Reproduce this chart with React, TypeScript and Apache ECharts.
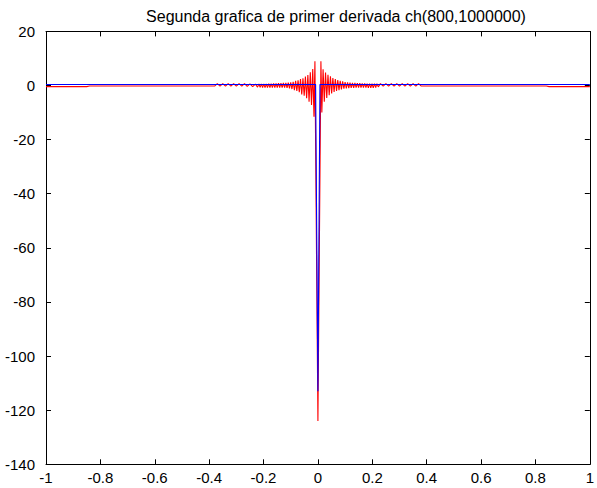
import React, { useEffect, useRef } from "react";
import * as echarts from "echarts";

// Axis ranges and tick spacing
const xMin = -1;
const xMax = 1;
const xStep = 0.2;
const yMin = -140;
const yMax = 20;
const yStep = 20;

const titleText = "Segunda grafica de primer derivada ch(800,1000000)";

// Blue trace: flat near zero with a sharp dip at the origin
const blueX = [-1, -0.5, -0.2, -0.0085, 0, 0.0075, 0.2, 0.5, 1];
const blueY = [0.4, 0.4, 0.4, 0.4, -113, 0.4, 0.4, 0.4, 0.4];

// Red trace, outer left part
const redOuterLeftX = [-1, -0.85, -0.84, -0.6, -0.38];
const redOuterLeftY = [-0.4, -0.4, -0.2, -0.2, -0.2];

// Red trace, small ripple band on the left
const redBandLeftX = [-0.37, -0.36, -0.35, -0.34, -0.33, -0.32, -0.31, -0.3, -0.29, -0.28, -0.27, -0.26, -0.25, -0.24, -0.23, -0.222];
const redBandLeftY = [0.7, -0.2, 0.7, -0.2, 0.7, -0.2, 0.7, -0.2, 0.7, -0.2, 0.7, -0.3, 0.6, -0.4, 0.5, -0.6];

// Red trace, growing oscillation approaching the origin from the left
const redBurstLeftX = [
  -0.217, -0.2125, -0.208, -0.2035, -0.199, -0.1945, -0.19, -0.1855, -0.181, -0.1765,
  -0.172, -0.1675, -0.163, -0.1585, -0.154, -0.1495, -0.145, -0.1405, -0.136, -0.1315,
  -0.127, -0.1225, -0.118, -0.1135, -0.109, -0.1045, -0.1, -0.0955, -0.091, -0.0865,
  -0.082, -0.0775, -0.073, -0.0685, -0.064, -0.0595, -0.055, -0.0505, -0.046, -0.0415,
  -0.037, -0.0325, -0.028, -0.0235, -0.019, -0.0145, -0.011,
];
const redBurstLeftY = [
  0.6, -0.7, 0.6, -0.8, 0.6, -0.8, 0.6, -0.8, 0.7, -0.8,
  0.7, -0.8, 0.8, -0.8, 0.8, -0.8, 0.9, -0.8, 0.9, -0.8,
  1.0, -0.8, 1.0, -0.9, 1.1, -1.1, 1.2, -1.3, 1.4, -1.7,
  1.7, -2.0, 1.9, -2.5, 2.4, -3.3, 2.7, -3.8, 3.3, -4.7,
  3.9, -6.0, 4.9, -7.2, 6.1, -11.5, 9.0,
];

// Red trace, central minimum
const redCentreX = [0];
const redCentreY = [-124];

// Red trace, decaying oscillation to the right of the origin
const redBurstRightX = [
  0.011, 0.0145, 0.019, 0.0235, 0.028, 0.0325, 0.037, 0.0415, 0.046, 0.0505,
  0.055, 0.0595, 0.064, 0.0685, 0.073, 0.0775, 0.082, 0.0865, 0.091, 0.0955,
  0.1, 0.1045, 0.109, 0.1135, 0.118, 0.1225, 0.127, 0.1315, 0.136, 0.1405,
  0.145, 0.1495, 0.154, 0.1585, 0.163, 0.1675, 0.172, 0.1765, 0.181, 0.1855,
  0.19, 0.1945, 0.199, 0.2035, 0.208, 0.2125, 0.217,
];
const redBurstRightY = [
  9.0, -10.0, 6.0, -6.0, 4.8, -4.6, 4.0, -3.6, 3.4, -2.9,
  2.8, -2.4, 2.4, -2.0, 2.0, -1.7, 1.7, -1.4, 1.5, -1.2,
  1.3, -1.1, 1.2, -1.0, 1.1, -0.9, 1.0, -0.9, 1.0, -0.8,
  0.9, -0.8, 0.9, -0.8, 0.8, -0.8, 0.8, -0.8, 0.7, -0.9,
  0.7, -0.9, 0.7, -0.9, 0.7, -0.8, 0.7,
];

// Red trace, small ripple band on the right
const redBandRightX = [0.222, 0.23, 0.24, 0.25, 0.26, 0.27, 0.28, 0.29, 0.3, 0.31, 0.32, 0.33, 0.34, 0.35, 0.36, 0.37];
const redBandRightY = [-0.5, 0.7, -0.2, 0.7, -0.2, 0.7, -0.2, 0.7, -0.2, 0.7, -0.2, 0.7, -0.2, 0.7, -0.2, 0.7];

// Red trace, outer right part
const redOuterRightX = [0.38, 0.6, 0.84, 0.85, 1];
const redOuterRightY = [-0.2, -0.2, -0.2, -0.4, -0.4];

const zip = (xs: number[], ys: number[]) => xs.map((x, i) => [x, ys[i]]);

const FONT = "'Liberation Sans', Arial, sans-serif";

export default function App() {
  const ref = useRef<HTMLDivElement>(null);

  useEffect(() => {
    if (!ref.current) return;
    const chart = echarts.init(ref.current, null, { renderer: "svg" });

    const redData = [
      ...zip(redOuterLeftX, redOuterLeftY),
      ...zip(redBandLeftX, redBandLeftY),
      ...zip(redBurstLeftX, redBurstLeftY),
      ...zip(redCentreX, redCentreY),
      ...zip(redBurstRightX, redBurstRightY),
      ...zip(redBandRightX, redBandRightY),
      ...zip(redOuterRightX, redOuterRightY),
    ];
    const blueData = zip(blueX, blueY);

    const fmtX = (v: number) => String(+v.toFixed(1));

    const baseX = {
      type: "value" as const,
      min: xMin,
      max: xMax,
      interval: xStep,
      splitLine: { show: false },
      axisLine: { show: true, onZero: false, lineStyle: { color: "#000", width: 1 } },
      axisTick: { show: true, inside: true, length: 5, lineStyle: { color: "#000" } },
    };
    const baseY = {
      type: "value" as const,
      min: yMin,
      max: yMax,
      interval: yStep,
      splitLine: { show: false },
      axisLine: { show: true, onZero: false, lineStyle: { color: "#000", width: 1 } },
      axisTick: { show: true, inside: true, length: 5, lineStyle: { color: "#000" } },
    };

    chart.setOption({
      animation: false,
      backgroundColor: "#fff",
      title: {
        text: titleText,
        left: 331,
        top: 3,
        textAlign: "center",
        textStyle: { fontFamily: FONT, fontSize: 16, fontWeight: "normal", color: "#000" },
      },
      grid: { left: 46, right: 1, top: 31.4, bottom: 23.7, containLabel: false },
      xAxis: [
        {
          ...baseX,
          position: "bottom",
          axisLabel: { show: true, formatter: fmtX, margin: 6, color: "#000", fontFamily: FONT, fontSize: 15 },
        },
        { ...baseX, position: "top", axisLabel: { show: false } },
      ],
      yAxis: [
        {
          ...baseY,
          position: "left",
          axisLabel: { show: true, margin: 11, color: "#000", fontFamily: FONT, fontSize: 15 },
        },
        { ...baseY, position: "right", axisLabel: { show: false } },
      ],
      series: [
        {
          type: "line",
          data: redData,
          showSymbol: false,
          symbol: "none",
          lineStyle: { color: "#ff0000", width: 1.1 },
          z: 2,
        },
        {
          type: "line",
          data: blueData,
          showSymbol: false,
          symbol: "none",
          lineStyle: { color: "#0000ff", width: 1.1 },
          z: 3,
        },
      ],
    });

    return () => chart.dispose();
  }, []);

  return (
    <div
      ref={ref}
      style={{ position: "fixed", left: 0, top: 0, width: 597, height: 488, background: "#fff" }}
    />
  );
}
